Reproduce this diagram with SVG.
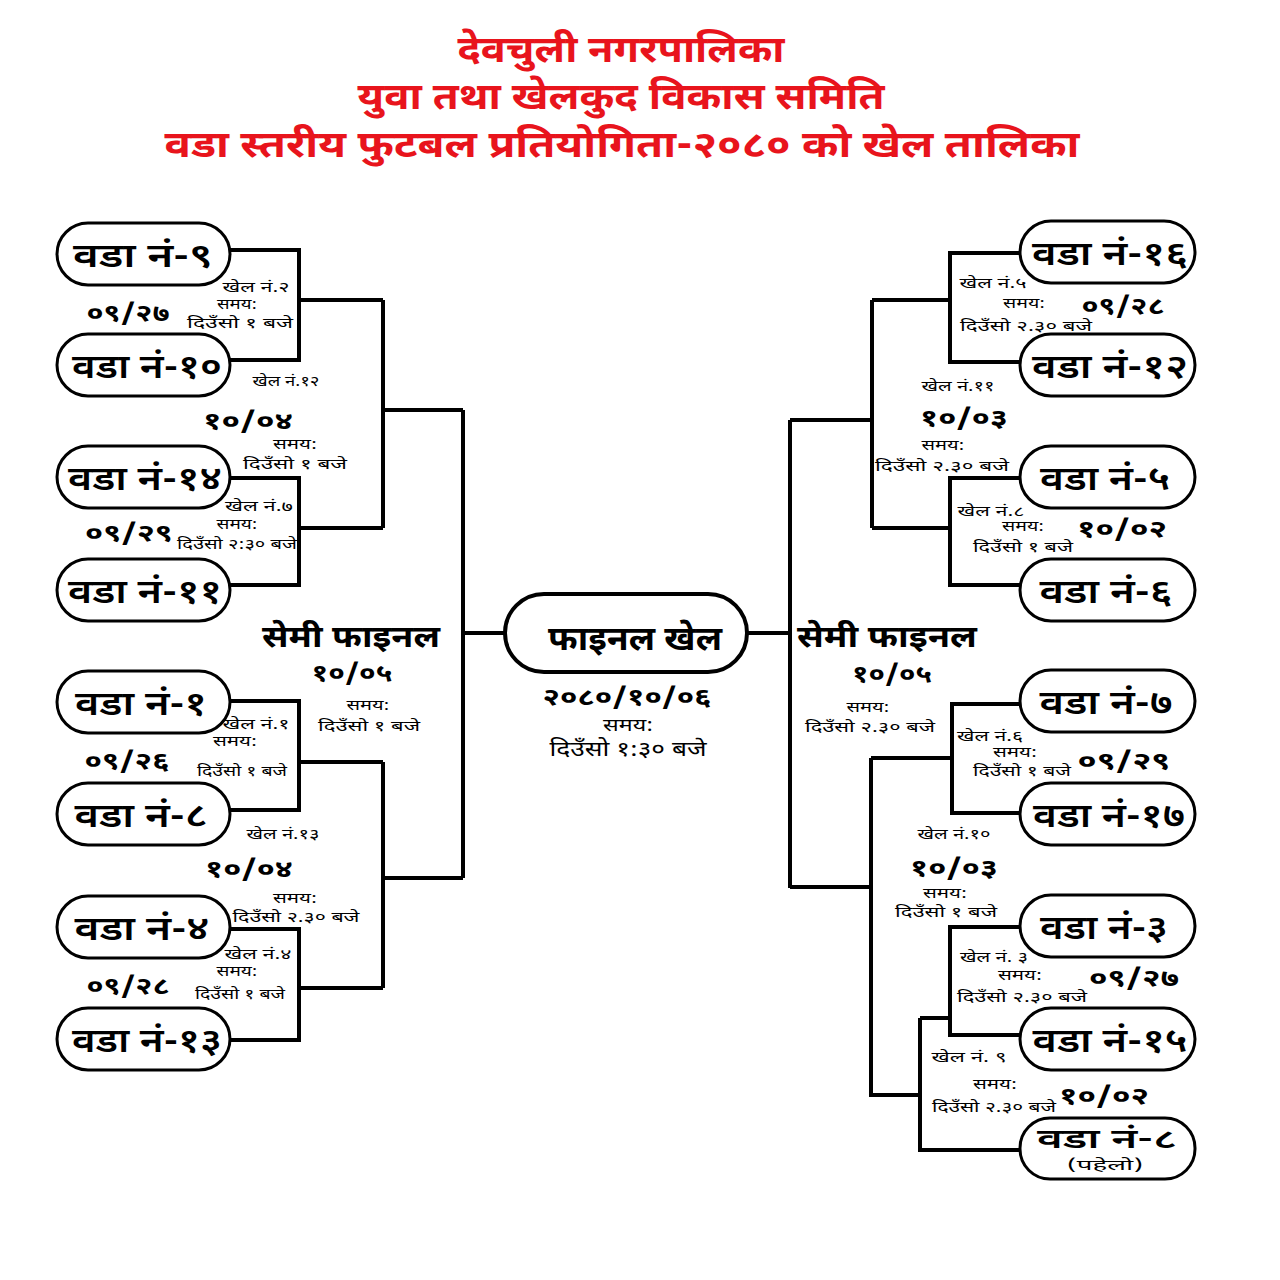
<svg xmlns="http://www.w3.org/2000/svg" width="1280" height="1280" viewBox="0 0 1280 1280">
<style>
text{font-family:"Noto Sans Devanagari","Noto Sans","DejaVu Sans",sans-serif;fill:#000}
.title{font-size:37px;font-weight:bold;fill:#e8141c;text-anchor:middle}
.pill{fill:#fff;stroke:#000;stroke-width:3}
.pt{font-size:34px;font-weight:600;text-anchor:middle}
.sm{font-size:15px;text-anchor:middle}
.dt{font-size:24px;font-weight:bold;text-anchor:middle}
.semi{font-size:31px;font-weight:bold;text-anchor:middle}
.ln{fill:none;stroke:#000;stroke-width:4}
</style>
<rect width="1280" height="1280" fill="#fff"/>
<g id="title">
<text class="title" x="621" y="62" textLength="327" lengthAdjust="spacingAndGlyphs">देवचुली नगरपालिका</text>
<text class="title" x="621" y="109" textLength="527" lengthAdjust="spacingAndGlyphs">युवा तथा खेलकुद विकास समिति</text>
<text class="title" x="622" y="157" textLength="915" lengthAdjust="spacingAndGlyphs">वडा स्तरीय फुटबल प्रतियोगिता-२०८० को खेल तालिका</text>
</g>
<g id="connectors">
<path class="ln" d="M230,250H299V360H230M299,300H383M230,478H299V585H230M299,528H383M383,300V528M383,410H463"/>
<path class="ln" d="M230,701H299V810H230M299,762H383M230,929H299V1040H230M299,988H383M383,762V988M383,878H463"/>
<path class="ln" d="M463,410V878M463,633H505M747,633H790M790,420V888"/>
<path class="ln" d="M1020,253H950V362H1020M950,300H872M1020,478H950V585H1020M950,528H872M872,300V528M872,420H790"/>
<path class="ln" d="M1020,704H952V813H1020M952,758H871M871,758V1095H920M871,887H790"/>
<path class="ln" d="M1020,927H950V1035H1020M950,1018H920M920,1018V1150H1020"/>
</g>
<g id="n9"><rect class="pill" x="57" y="223" width="173" height="62" rx="31"/><text class="pt" x="143" y="267" textLength="140" lengthAdjust="spacingAndGlyphs">वडा नं-९</text></g>
<g id="n10"><rect class="pill" x="57" y="334" width="173" height="62" rx="31"/><text class="pt" x="147" y="378" textLength="150" lengthAdjust="spacingAndGlyphs">वडा नं-१०</text></g>
<g id="n14"><rect class="pill" x="57" y="446" width="173" height="62" rx="31"/><text class="pt" x="145" y="490" textLength="154" lengthAdjust="spacingAndGlyphs">वडा नं-१४</text></g>
<g id="n11"><rect class="pill" x="57" y="559" width="173" height="62" rx="31"/><text class="pt" x="145" y="603" textLength="154" lengthAdjust="spacingAndGlyphs">वडा नं-११</text></g>
<g id="n1"><rect class="pill" x="57" y="671" width="173" height="62" rx="31"/><text class="pt" x="141" y="715" textLength="132" lengthAdjust="spacingAndGlyphs">वडा नं-१</text></g>
<g id="n8"><rect class="pill" x="57" y="783" width="173" height="62" rx="31"/><text class="pt" x="141" y="827" textLength="133" lengthAdjust="spacingAndGlyphs">वडा नं-८</text></g>
<g id="n4"><rect class="pill" x="57" y="896" width="173" height="62" rx="31"/><text class="pt" x="142" y="940" textLength="135" lengthAdjust="spacingAndGlyphs">वडा नं-४</text></g>
<g id="n13"><rect class="pill" x="57" y="1008" width="173" height="62" rx="31"/><text class="pt" x="147" y="1052" textLength="150" lengthAdjust="spacingAndGlyphs">वडा नं-१३</text></g>
<g id="n16"><rect class="pill" x="1020" y="221" width="175" height="62" rx="31"/><text class="pt" x="1110" y="265" textLength="156" lengthAdjust="spacingAndGlyphs">वडा नं-१६</text></g>
<g id="n12"><rect class="pill" x="1020" y="334" width="175" height="62" rx="31"/><text class="pt" x="1110" y="378" textLength="156" lengthAdjust="spacingAndGlyphs">वडा नं-१२</text></g>
<g id="n5"><rect class="pill" x="1020" y="446" width="175" height="62" rx="31"/><text class="pt" x="1105" y="490" textLength="130" lengthAdjust="spacingAndGlyphs">वडा नं-५</text></g>
<g id="n6"><rect class="pill" x="1020" y="559" width="175" height="62" rx="31"/><text class="pt" x="1106" y="603" textLength="133" lengthAdjust="spacingAndGlyphs">वडा नं-६</text></g>
<g id="n7"><rect class="pill" x="1020" y="670" width="175" height="62" rx="31"/><text class="pt" x="1106" y="714" textLength="133" lengthAdjust="spacingAndGlyphs">वडा नं-७</text></g>
<g id="n17"><rect class="pill" x="1020" y="783" width="175" height="62" rx="31"/><text class="pt" x="1109" y="827" textLength="152" lengthAdjust="spacingAndGlyphs">वडा नं-१७</text></g>
<g id="n3"><rect class="pill" x="1020" y="895" width="175" height="62" rx="31"/><text class="pt" x="1104" y="939" textLength="128" lengthAdjust="spacingAndGlyphs">वडा नं-३</text></g>
<g id="n15"><rect class="pill" x="1020" y="1008" width="175" height="62" rx="31"/><text class="pt" x="1110" y="1052" textLength="155" lengthAdjust="spacingAndGlyphs">वडा नं-१५</text></g>
<g id="n8b"><rect class="pill" x="1020" y="1118" width="175" height="61" rx="30"/><text class="pt" x="1107" y="1148" style="font-size:27px" textLength="140" lengthAdjust="spacingAndGlyphs">वडा नं-८</text><text class="sm" x="1105" y="1170" style="font-size:14px" textLength="76" lengthAdjust="spacingAndGlyphs">(पहेलो)</text></g>
<g id="final"><rect class="pill" x="505" y="594" width="242" height="78" rx="39" style="stroke-width:4"/><text class="semi" x="635" y="650" style="font-size:33px" textLength="174" lengthAdjust="spacingAndGlyphs">फाइनल खेल</text></g>
<g id="labels">
<text class="sm" x="256" y="292" textLength="67" lengthAdjust="spacingAndGlyphs">खेल नं.२</text>
<text class="sm" x="237" y="309" textLength="40" lengthAdjust="spacingAndGlyphs">समय:</text>
<text class="sm" x="240" y="328" textLength="106" lengthAdjust="spacingAndGlyphs">दिउँसो १ बजे</text>
<text class="dt" x="128" y="321" textLength="83" lengthAdjust="spacingAndGlyphs">०९/२७</text>
<text class="sm" x="286" y="386" textLength="67" lengthAdjust="spacingAndGlyphs">खेल नं.१२</text>
<text class="dt" x="248" y="429" textLength="90" lengthAdjust="spacingAndGlyphs">१०/०४</text>
<text class="sm" x="295" y="449" textLength="44" lengthAdjust="spacingAndGlyphs">समय:</text>
<text class="sm" x="295" y="469" textLength="104" lengthAdjust="spacingAndGlyphs">दिउँसो १ बजे</text>
<text class="sm" x="259" y="511" textLength="68" lengthAdjust="spacingAndGlyphs">खेल नं.७</text>
<text class="sm" x="237" y="529" textLength="41" lengthAdjust="spacingAndGlyphs">समय:</text>
<text class="dt" x="129" y="541" textLength="88" lengthAdjust="spacingAndGlyphs">०९/२९</text>
<text class="sm" x="237" y="549" textLength="120" lengthAdjust="spacingAndGlyphs">दिउँसो २:३० बजे</text>
<text class="semi" x="351" y="647" textLength="178" lengthAdjust="spacingAndGlyphs">सेमी फाइनल</text>
<text class="dt" x="352" y="681" textLength="81" lengthAdjust="spacingAndGlyphs">१०/०५</text>
<text class="sm" x="368" y="710" textLength="43" lengthAdjust="spacingAndGlyphs">समय:</text>
<text class="sm" x="369" y="731" textLength="102" lengthAdjust="spacingAndGlyphs">दिउँसो १ बजे</text>
<text class="sm" x="256" y="729" textLength="67" lengthAdjust="spacingAndGlyphs">खेल नं.१</text>
<text class="sm" x="235" y="746" textLength="44" lengthAdjust="spacingAndGlyphs">समय:</text>
<text class="dt" x="127" y="769" textLength="85" lengthAdjust="spacingAndGlyphs">०९/२६</text>
<text class="sm" x="242" y="776" textLength="90" lengthAdjust="spacingAndGlyphs">दिउँसो १ बजे</text>
<text class="sm" x="283" y="839" textLength="73" lengthAdjust="spacingAndGlyphs">खेल नं.१३</text>
<text class="dt" x="249" y="877" textLength="88" lengthAdjust="spacingAndGlyphs">१०/०४</text>
<text class="sm" x="295" y="903" textLength="44" lengthAdjust="spacingAndGlyphs">समय:</text>
<text class="sm" x="296" y="922" textLength="127" lengthAdjust="spacingAndGlyphs">दिउँसो २.३० बजे</text>
<text class="sm" x="258" y="959" textLength="67" lengthAdjust="spacingAndGlyphs">खेल नं.४</text>
<text class="sm" x="237" y="976" textLength="41" lengthAdjust="spacingAndGlyphs">समय:</text>
<text class="dt" x="128" y="994" textLength="83" lengthAdjust="spacingAndGlyphs">०९/२८</text>
<text class="sm" x="240" y="999" textLength="90" lengthAdjust="spacingAndGlyphs">दिउँसो १ बजे</text>
<text class="dt" x="627" y="705" textLength="169" lengthAdjust="spacingAndGlyphs">२०८०/१०/०६</text>
<text class="sm" x="628" y="731" style="font-size:18px" textLength="50" lengthAdjust="spacingAndGlyphs">समय:</text>
<text class="sm" x="628" y="756" style="font-size:20px" textLength="157" lengthAdjust="spacingAndGlyphs">दिउँसो १:३० बजे</text>
<text class="sm" x="993" y="288" textLength="67" lengthAdjust="spacingAndGlyphs">खेल नं.५</text>
<text class="sm" x="1024" y="308" textLength="42" lengthAdjust="spacingAndGlyphs">समय:</text>
<text class="dt" x="1123" y="314" textLength="83" lengthAdjust="spacingAndGlyphs">०९/२८</text>
<text class="sm" x="1026" y="331" textLength="132" lengthAdjust="spacingAndGlyphs">दिउँसो २.३० बजे</text>
<text class="sm" x="958" y="391" textLength="73" lengthAdjust="spacingAndGlyphs">खेल नं.११</text>
<text class="dt" x="964" y="426" textLength="88" lengthAdjust="spacingAndGlyphs">१०/०३</text>
<text class="sm" x="943" y="450" textLength="43" lengthAdjust="spacingAndGlyphs">समय:</text>
<text class="sm" x="942" y="471" textLength="134" lengthAdjust="spacingAndGlyphs">दिउँसो २.३० बजे</text>
<text class="sm" x="991" y="516" textLength="67" lengthAdjust="spacingAndGlyphs">खेल नं.८</text>
<text class="sm" x="1023" y="531" textLength="42" lengthAdjust="spacingAndGlyphs">समय:</text>
<text class="dt" x="1122" y="537" textLength="90" lengthAdjust="spacingAndGlyphs">१०/०२</text>
<text class="sm" x="1023" y="552" textLength="100" lengthAdjust="spacingAndGlyphs">दिउँसो १ बजे</text>
<text class="semi" x="887" y="647" textLength="180" lengthAdjust="spacingAndGlyphs">सेमी फाइनल</text>
<text class="dt" x="892" y="682" textLength="80" lengthAdjust="spacingAndGlyphs">१०/०५</text>
<text class="sm" x="868" y="712" textLength="43" lengthAdjust="spacingAndGlyphs">समय:</text>
<text class="sm" x="870" y="732" textLength="130" lengthAdjust="spacingAndGlyphs">दिउँसो २.३० बजे</text>
<text class="sm" x="990" y="741" textLength="66" lengthAdjust="spacingAndGlyphs">खेल नं.६</text>
<text class="sm" x="1015" y="757" textLength="44" lengthAdjust="spacingAndGlyphs">समय:</text>
<text class="dt" x="1124" y="769" textLength="93" lengthAdjust="spacingAndGlyphs">०९/२९</text>
<text class="sm" x="1022" y="776" textLength="98" lengthAdjust="spacingAndGlyphs">दिउँसो १ बजे</text>
<text class="sm" x="954" y="839" textLength="73" lengthAdjust="spacingAndGlyphs">खेल नं.१०</text>
<text class="dt" x="954" y="876" textLength="88" lengthAdjust="spacingAndGlyphs">१०/०३</text>
<text class="sm" x="945" y="898" textLength="44" lengthAdjust="spacingAndGlyphs">समय:</text>
<text class="sm" x="946" y="917" textLength="102" lengthAdjust="spacingAndGlyphs">दिउँसो १ बजे</text>
<text class="sm" x="994" y="962" textLength="68" lengthAdjust="spacingAndGlyphs">खेल नं. ३</text>
<text class="sm" x="1020" y="980" textLength="44" lengthAdjust="spacingAndGlyphs">समय:</text>
<text class="dt" x="1134" y="986" textLength="90" lengthAdjust="spacingAndGlyphs">०९/२७</text>
<text class="sm" x="1022" y="1002" textLength="130" lengthAdjust="spacingAndGlyphs">दिउँसो २.३० बजे</text>
<text class="sm" x="969" y="1062" textLength="75" lengthAdjust="spacingAndGlyphs">खेल नं. ९</text>
<text class="sm" x="995" y="1089" textLength="44" lengthAdjust="spacingAndGlyphs">समय:</text>
<text class="dt" x="1104" y="1104" textLength="90" lengthAdjust="spacingAndGlyphs">१०/०२</text>
<text class="sm" x="994" y="1112" textLength="124" lengthAdjust="spacingAndGlyphs">दिउँसो २.३० बजे</text>
</g>
</svg>
